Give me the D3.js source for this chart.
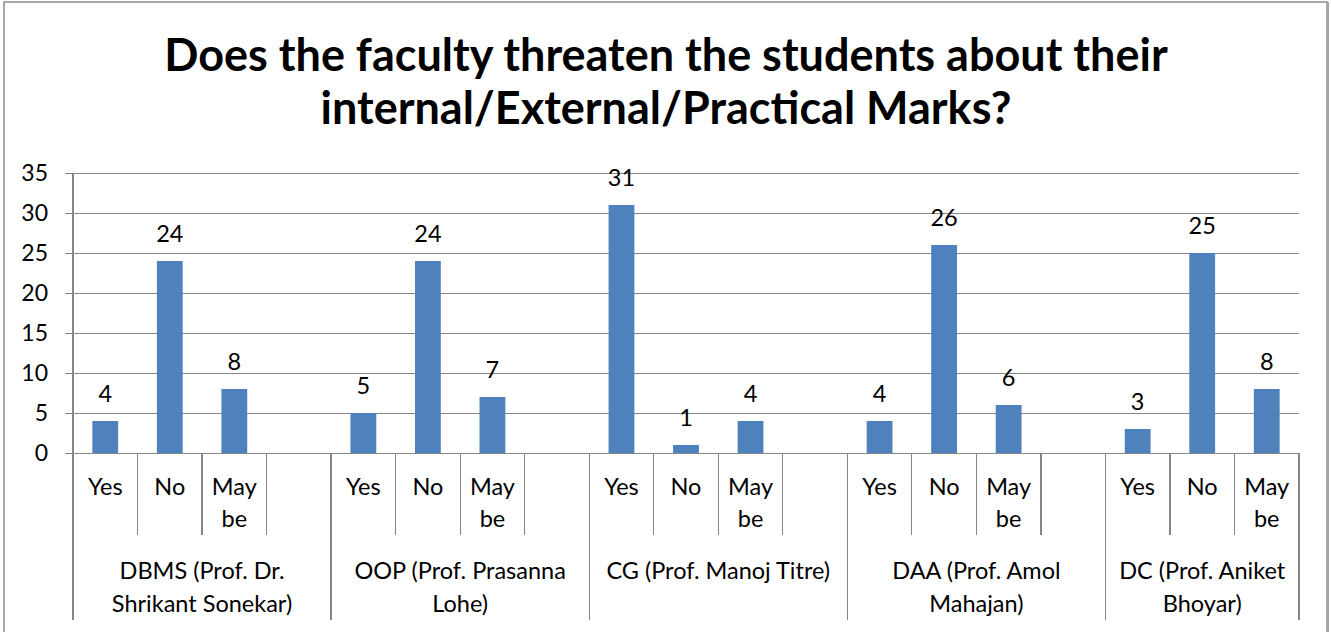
<!DOCTYPE html>
<meta charset="utf-8">
<style>
body { margin: 0; background: #fff; }
svg { display: block; font-family: Lato, "Open Sans", sans-serif; }
.grid line { stroke: #868686; stroke-width: 1.3px; shape-rendering: crispEdges; }
.cat line { stroke: #868686; stroke-width: 1.3px; shape-rendering: crispEdges; }
.cat text { font-size: 23.5px; fill: #000; }
.bar { fill: #4f81bd; }
.lbl { font-size: 23.5px; fill: #000; text-anchor: middle; }
.title { font-size: 45px; font-weight: bold; fill: #000; text-anchor: middle; }
</style>
<body>
<div id="chart"></div>
<script src="https://d3js.org/d3.v7.min.js"></script>
<script>
// data
var titleLines = ["Does the faculty threaten the students about their", "internal/External/Practical Marks?"];
var subjects = [
    ["DBMS (Prof. Dr.", "Shrikant Sonekar)"],
    ["OOP (Prof. Prasanna", "Lohe)"],
    ["CG (Prof. Manoj Titre)"],
    ["DAA (Prof. Amol", "Mahajan)"],
    ["DC (Prof. Aniket", "Bhoyar)"]
];
var answers = [["Yes"], ["No"], ["May", "be"]];
var yesVals = [4, 5, 31, 4, 3];
var noVals = [24, 24, 1, 26, 25];
var maybeVals = [8, 7, 4, 6, 8];
var yTicks = [0, 5, 10, 15, 20, 25, 30, 35];

var W = 1331, H = 632;
var margin = { left: 73, right: 32, top: 173, bottom: 179 };
var x0 = margin.left, x1 = W - margin.right, yTop = margin.top, yBase = H - margin.bottom;

// one slot per answer, plus an empty slot after every subject but the last
var slots = [];
subjects.forEach(function(s, gi) {
    var vals = [yesVals[gi], noVals[gi], maybeVals[gi]];
    answers.forEach(function(a, ai) {
        slots.push({ id: gi + "-" + ai, group: gi, label: a, value: vals[ai] });
    });
    if (gi < subjects.length - 1) slots.push({ id: gi + "-x", group: gi, label: [], value: null });
});

var svg = d3.select("#chart").append("svg").attr("width", W).attr("height", H);

// outer frame
svg.append("rect").attr("x", 4).attr("y", 2).attr("width", 1323).attr("height", H + 10)
    .attr("fill", "none").attr("stroke", "#8c8c8c").attr("stroke-width", 1.5);
svg.append("line").attr("x1", 1328).attr("x2", 1328).attr("y1", 2).attr("y2", H)
    .attr("stroke", "#a6a6a6").attr("stroke-width", 2);

svg.selectAll(".title").data(titleLines).enter().append("text")
    .attr("class", "title")
    .attr("x", 666)
    .attr("y", function(d, i) { return 71 + i * 53; })
    .text(function(d) { return d; });

var x = d3.scaleBand().domain(slots.map(function(d) { return d.id; })).range([x0, x1]).padding(0);
var y = d3.scaleLinear().domain([0, 35]).range([yBase, yTop]);

// gridlines + y labels (axis hung from the right edge so ticks reach past the left axis)
var grid = svg.append("g").attr("class", "grid")
    .attr("transform", "translate(" + x1 + ",0)")
    .call(d3.axisLeft(y).tickValues(yTicks).tickSize(x1 - x0 + 8).tickPadding(17));
grid.select(".domain").remove();
grid.selectAll("text").style("font-size", "23px").attr("fill", "#000")
    .style("font-family", "Lato, 'Open Sans', sans-serif");

// category axis lines
var cat = svg.append("g").attr("class", "cat");
cat.append("line").attr("x1", x0).attr("x2", x0).attr("y1", yTop).attr("y2", 620);
var bounds = slots.map(function(d, i) { return { x: x(d.id), major: i === 0 || d.group !== slots[i - 1].group }; });
bounds.push({ x: x1, major: true });
cat.selectAll(".sep").data(bounds.slice(1)).enter().append("line")
    .attr("x1", function(d) { return d.x; }).attr("x2", function(d) { return d.x; })
    .attr("y1", yBase).attr("y2", function(d) { return d.major ? 620 : 535; });

cat.selectAll(".ans").data(slots).enter().append("text")
    .attr("text-anchor", "middle")
    .attr("x", function(d) { return x(d.id) + x.bandwidth() / 2; })
    .attr("y", 495)
    .selectAll("tspan").data(function(d) { return d.label; }).enter().append("tspan")
    .attr("x", function() { return x(d3.select(this.parentNode).datum().id) + x.bandwidth() / 2; })
    .attr("dy", function(d, i) { return i ? 32 : 0; })
    .text(function(d) { return d; });

cat.selectAll(".subj").data(subjects).enter().append("text")
    .attr("text-anchor", "middle")
    .each(function(lines, gi) {
        var gs = slots.filter(function(s) { return s.group === gi; });
        var cx = (x(gs[0].id) + x(gs[gs.length - 1].id) + x.bandwidth()) / 2;
        d3.select(this).selectAll("tspan").data(lines).enter().append("tspan")
            .attr("x", cx).attr("y", function(d, i) { return 579 + i * 33; })
            .text(function(d) { return d; });
    });

// bars
var bw = x.bandwidth() * 0.4;
var filled = slots.filter(function(d) { return d.value !== null; });
svg.selectAll(".bar").data(filled).enter().append("rect")
    .attr("class", "bar")
    .attr("x", function(d) { return x(d.id) + (x.bandwidth() - bw) / 2; })
    .attr("y", function(d) { return y(d.value); })
    .attr("width", bw)
    .attr("height", function(d) { return y(0) - y(d.value); });

svg.selectAll(".lbl").data(filled).enter().append("text")
    .attr("class", "lbl")
    .attr("x", function(d) { return x(d.id) + x.bandwidth() / 2; })
    .attr("y", function(d) { return y(d.value) - 19; })
    .text(function(d) { return d.value; });
</script>
